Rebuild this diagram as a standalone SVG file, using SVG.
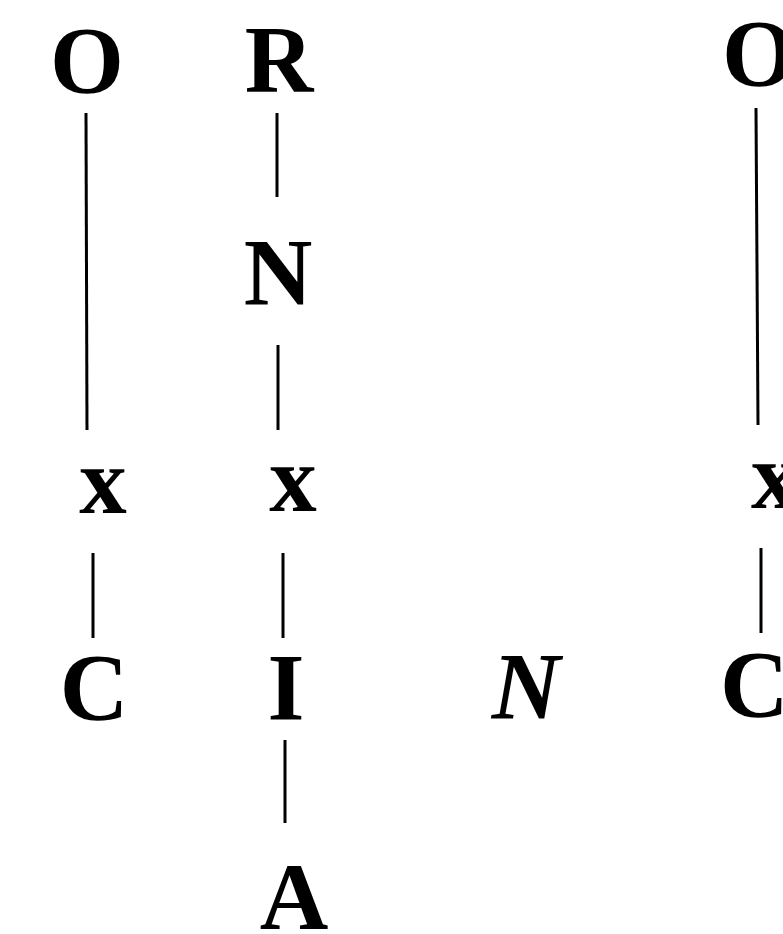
<svg xmlns="http://www.w3.org/2000/svg" width="783" height="934" viewBox="0 0 783 934">
<style>
.t{font-family:"Liberation Serif","Times New Roman",serif;font-weight:bold;font-size:95px;fill:#000;text-anchor:middle}
.s{text-anchor:start}
.i{font-style:italic}
.e{stroke:#000;stroke-width:3;fill:none}
</style>
<rect width="783" height="934" fill="#fff"/>
<g id="connectors">
<line class="e" x1="86" y1="113" x2="87" y2="430"/>
<line class="e" x1="277" y1="113" x2="277" y2="197"/>
<line class="e" x1="278" y1="345" x2="278" y2="430"/>
<line class="e" x1="93" y1="553" x2="93" y2="638"/>
<line class="e" x1="283" y1="553" x2="283" y2="638"/>
<line class="e" x1="285" y1="740" x2="285" y2="823"/>
<line class="e" x1="756" y1="108" x2="758" y2="425"/>
<line class="e" x1="761" y1="548" x2="761" y2="633"/>
</g>
<g id="n-O1"><text class="t" x="87" y="93">O</text></g>
<g id="n-R"><text class="t" x="279" y="92">R</text></g>
<g id="n-N"><text class="t" x="278" y="305">N</text></g>
<g id="n-x1"><text class="t" x="103" y="513">x</text></g>
<g id="n-x2"><text class="t" x="293" y="511">x</text></g>
<g id="n-C1"><text class="t" x="94" y="720">C</text></g>
<g id="n-I"><text class="t" x="286" y="720">I</text></g>
<g id="n-A"><text class="t" x="294" y="929">A</text></g>
<g id="n-Nitalic"><text class="t i" x="526" y="719">N</text></g>
<g id="n-O2"><text class="t s" x="722" y="86">O</text></g>
<g id="n-x3"><text class="t s" x="751" y="508">x</text></g>
<g id="n-C2"><text class="t s" x="720" y="717">C</text></g>
</svg>
